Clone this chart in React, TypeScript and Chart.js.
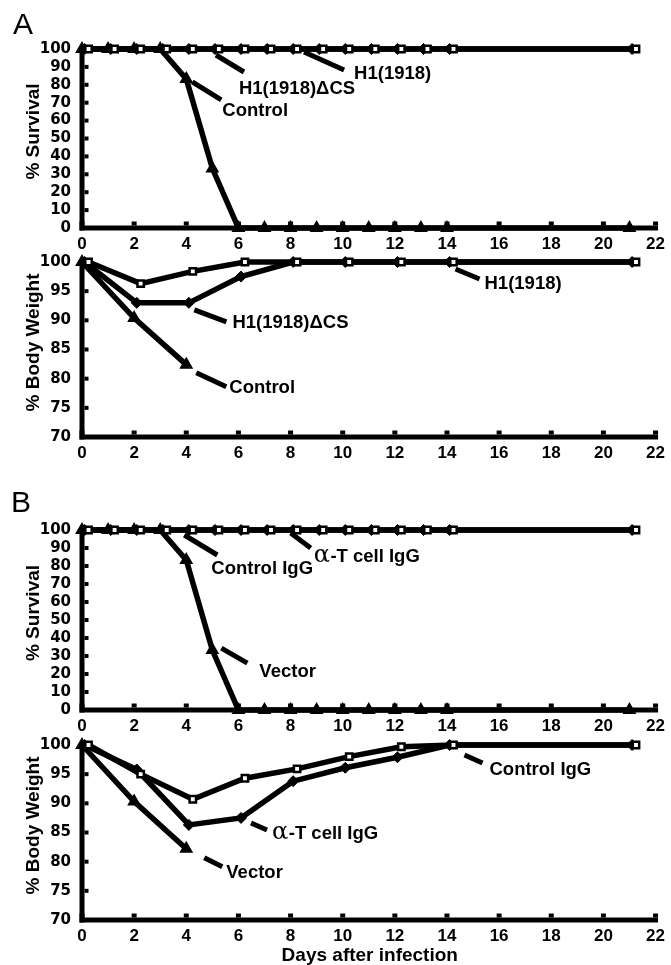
import { useEffect, useRef } from "react";
import { Chart, registerables } from "chart.js";

Chart.register(...registerables);

// ---------------- data ----------------
const survivalDays = [0, 1, 2, 3, 4, 5, 6, 7, 8, 9, 10, 11, 12, 13, 14, 21];
const weightDays = [0, 2, 4, 6, 8, 10, 12, 14, 21];
const weightDaysShort = [0, 2, 4];

// Panel A – % survival
const aSurvH1 = [100, 100, 100, 100, 100, 100, 100, 100, 100, 100, 100, 100, 100, 100, 100, 100];
const aSurvDeltaCS = [100, 100, 100, 100, 100, 100, 100, 100, 100, 100, 100, 100, 100, 100, 100, 100];
const aSurvControl = [100, 100, 100, 100, 83.3, 33.3, 0, 0, 0, 0, 0, 0, 0, 0, 0, 0];
// Panel A – % body weight
const aWtH1 = [100, 96.3, 98.4, 100, 100, 100, 100, 100, 100];
const aWtDeltaCS = [100, 93.0, 93.0, 97.5, 100, 100, 100, 100, 100];
const aWtControl = [100, 90.4, 82.4];
// Panel B – % survival
const bSurvControlIgG = [100, 100, 100, 100, 100, 100, 100, 100, 100, 100, 100, 100, 100, 100, 100, 100];
const bSurvAlphaT = [100, 100, 100, 100, 100, 100, 100, 100, 100, 100, 100, 100, 100, 100, 100, 100];
const bSurvVector = [100, 100, 100, 100, 83.3, 33.3, 0, 0, 0, 0, 0, 0, 0, 0, 0, 0];
// Panel B – % body weight
const bWtControlIgG = [100, 95.0, 90.7, 94.3, 95.9, 98.0, 99.7, 100, 100];
const bWtAlphaT = [100, 95.8, 86.3, 87.5, 93.8, 96.1, 97.9, 100, 100];
const bWtVector = [100, 90.3, 82.2];

// axis ranges / ticks
const xRange = { min: 0, max: 22, step: 2 };
const survivalRange = { min: 0, max: 100, step: 10 };
const weightRange = { min: 70, max: 100, step: 5 };

const xTitle = "Days after infection";

// ---------------- styles ----------------
const W = 671;
const H = 965;
const LEFT = 82;
const RIGHT = 659;
const XH = 30;
const SANS = '"Liberation Sans", Arial, sans-serif';

type MarkerKind = "square" | "diamond" | "triangle";
const MARKERS: Record<MarkerKind, any> = {
  square: { pointStyle: "rect", pointRadius: 4.5, pointBackgroundColor: "#fff", pointBorderWidth: 2.5, shift: 0.25 },
  diamond: { pointStyle: "rectRot", pointRadius: 5.5, pointBackgroundColor: "#000", pointBorderWidth: 1, shift: 0.1 },
  triangle: { pointStyle: "triangle", pointRadius: 6.5, pointBackgroundColor: "#000", pointBorderWidth: 1.5, shift: 0 },
};

type Series = { label: string; days: number[]; values: number[]; marker: MarkerKind };
type Note = { text: string; series: number; point: number; from: [number, number]; to: [number, number]; at: [number, number] };
type Panel = {
  top: number;
  bottom: number;
  range: { min: number; max: number; step: number };
  yTitle: string;
  letter?: { text: string; x: number; y: number };
  showXTitle?: boolean;
  series: Series[];
  notes: Note[];
};

const PANELS: Panel[] = [
  {
    top: 49,
    bottom: 228,
    range: survivalRange,
    yTitle: "% Survival",
    letter: { text: "A", x: 13, y: 34 },
    series: [
      { label: "H1(1918)", days: survivalDays, values: aSurvH1, marker: "square" },
      { label: "H1(1918)ΔCS", days: survivalDays, values: aSurvDeltaCS, marker: "diamond" },
      { label: "Control", days: survivalDays, values: aSurvControl, marker: "triangle" },
    ],
    notes: [
      { text: "H1(1918)ΔCS", series: 1, point: 5, from: [1, 6], to: [29, 23], at: [24, 38] },
      { text: "H1(1918)", series: 0, point: 8, from: [7, 3], to: [47, 21], at: [57, 23] },
      { text: "Control", series: 2, point: 4, from: [6, 3], to: [35, 21], at: [36, 31] },
    ],
  },
  {
    top: 262,
    bottom: 437,
    range: weightRange,
    yTitle: "% Body Weight",
    series: [
      { label: "H1(1918)", days: weightDays, values: aWtH1, marker: "square" },
      { label: "H1(1918)ΔCS", days: weightDays, values: aWtDeltaCS, marker: "diamond" },
      { label: "Control", days: weightDaysShort, values: aWtControl, marker: "triangle" },
    ],
    notes: [
      { text: "H1(1918)", series: 0, point: 7, from: [2, 7], to: [26, 17], at: [31, 20] },
      { text: "H1(1918)ΔCS", series: 1, point: 2, from: [5.5, 7], to: [37.5, 19], at: [43.5, 19] },
      { text: "Control", series: 2, point: 2, from: [10, 8], to: [40, 22], at: [43, 22] },
    ],
  },
  {
    top: 530,
    bottom: 710,
    range: survivalRange,
    yTitle: "% Survival",
    letter: { text: "B", x: 11, y: 512 },
    series: [
      { label: "Control IgG", days: survivalDays, values: bSurvControlIgG, marker: "square" },
      { label: "α-T cell IgG", days: survivalDays, values: bSurvAlphaT, marker: "diamond" },
      { label: "Vector", days: survivalDays, values: bSurvVector, marker: "triangle" },
    ],
    notes: [
      { text: "Control IgG", series: 0, point: 4, from: [-8.5, 5], to: [24.5, 25], at: [18.5, 37] },
      { text: "α-T cell IgG", series: 1, point: 8, from: [-2.5, 3], to: [17.5, 18], at: [20.5, 25] },
      { text: "Vector", series: 2, point: 5, from: [9, -2], to: [35, 13], at: [47, 20] },
    ],
  },
  {
    top: 745,
    bottom: 920,
    range: weightRange,
    yTitle: "% Body Weight",
    showXTitle: true,
    series: [
      { label: "Control IgG", days: weightDays, values: bWtControlIgG, marker: "square" },
      { label: "α-T cell IgG", days: weightDays, values: bWtAlphaT, marker: "diamond" },
      { label: "Vector", days: weightDaysShort, values: bWtVector, marker: "triangle" },
    ],
    notes: [
      { text: "Control IgG", series: 0, point: 7, from: [11, 10], to: [29, 18], at: [36, 23] },
      { text: "α-T cell IgG", series: 1, point: 3, from: [10, 5], to: [26, 12], at: [31, 15] },
      { text: "Vector", series: 2, point: 2, from: [18, 9], to: [36, 18], at: [40, 23] },
    ],
  },
];

// draws note text; a leading Greek letter is set in a lighter serif face, as in the figure
function drawNoteText(ctx: CanvasRenderingContext2D, text: string, x: number, y: number) {
  ctx.textAlign = "left";
  ctx.textBaseline = "alphabetic";
  const base = y + 6.5;
  let cx = x;
  let rest = text;
  if (text.startsWith("α")) {
    ctx.font = `normal 24px "DejaVu Serif", serif`;
    ctx.fillText("α", cx, base);
    cx += ctx.measureText("α").width + 0.5;
    rest = text.slice(1);
  }
  ctx.font = `bold 18.5px ${SANS}`;
  ctx.fillText(rest, cx, base);
}

// ---------------- decoration plugin ----------------
const decor = {
  id: "decor",
  beforeDatasetsDraw(chart: any) {
    const { ctx, chartArea, scales } = chart;
    const { left, right, top, bottom } = chartArea;
    ctx.save();
    ctx.fillStyle = "#000";
    ctx.fillRect(left - 2.5, top - 2, 5, bottom - top + 4.5);
    ctx.fillRect(left - 2.5, bottom - 2.5, right - left + 5, 5);
    scales.y.ticks.forEach((t: any) => {
      const py = scales.y.getPixelForValue(t.value);
      ctx.fillRect(left + 2.5, py - 2, 4, 4);
    });
    scales.x.ticks.forEach((t: any) => {
      const px = scales.x.getPixelForValue(t.value);
      ctx.fillRect(px - 2.5, bottom - 6.5, 5, 4);
    });
    ctx.restore();
  },
  afterDatasetsDraw(chart: any, _args: any, opts: any) {
    const panel: Panel = opts.panel;
    const { ctx, chartArea } = chart;
    const { top, bottom } = chartArea;
    ctx.save();
    ctx.fillStyle = "#000";
    ctx.strokeStyle = "#000";

    // notes with leader lines
    panel.notes.forEach((n) => {
      const el = chart.getDatasetMeta(n.series).data[n.point];
      if (!el) return;
      const ax = el.x;
      const ay = el.y;
      ctx.lineWidth = 5;
      ctx.lineCap = "butt";
      ctx.beginPath();
      ctx.moveTo(ax + n.from[0], ay + n.from[1]);
      ctx.lineTo(ax + n.to[0], ay + n.to[1]);
      ctx.stroke();
      drawNoteText(ctx, n.text, ax + n.at[0], ay + n.at[1]);
    });

    // y-axis title
    ctx.font = `bold 19px ${SANS}`;
    ctx.textAlign = "center";
    ctx.textBaseline = "alphabetic";
    ctx.save();
    ctx.translate(39, (top + bottom) / 2 - 7);
    ctx.rotate(-Math.PI / 2);
    ctx.fillText(panel.yTitle, 0, 0);
    ctx.restore();

    // x-axis title
    if (panel.showXTitle) {
      ctx.font = `bold 19px ${SANS}`;
      ctx.textAlign = "center";
      ctx.textBaseline = "alphabetic";
      ctx.fillText(xTitle, (chartArea.left + chartArea.right) / 2 + 1, 961);
    }

    // panel letter
    if (panel.letter) {
      ctx.font = `normal 30px ${SANS}`;
      ctx.textAlign = "left";
      ctx.textBaseline = "alphabetic";
      ctx.fillText(panel.letter.text, panel.letter.x, panel.letter.y);
    }
    ctx.restore();
  },
};

function buildConfig(panel: Panel): any {
  const datasets = panel.series.map((s) => {
    const m = MARKERS[s.marker];
    return {
      label: s.label,
      data: s.days.map((d, i) => ({ x: d + m.shift, y: s.values[i] })),
      borderColor: "#000",
      borderWidth: 5.5,
      pointStyle: m.pointStyle,
      pointRadius: m.pointRadius,
      pointBackgroundColor: m.pointBackgroundColor,
      pointBorderColor: "#000",
      pointBorderWidth: m.pointBorderWidth,
      tension: 0,
      fill: false,
      clip: false,
    };
  });
  return {
    type: "line",
    data: { datasets },
    plugins: [decor],
    options: {
      animation: false,
      responsive: false,
      devicePixelRatio: 1,
      events: [],
      layout: { padding: { left: 0, right: W - RIGHT, top: panel.top, bottom: H - panel.bottom - XH } },
      plugins: {
        legend: { display: false },
        tooltip: { enabled: false },
        decor: { panel },
      },
      scales: {
        x: {
          type: "linear",
          min: xRange.min,
          max: xRange.max,
          grid: { display: false, drawTicks: false },
          border: { display: false },
          ticks: {
            stepSize: xRange.step,
            padding: 6,
            autoSkip: false,
            maxRotation: 0,
            color: "#000",
            font: { family: SANS, size: 17, weight: "bold" },
          },
          afterFit: (s: any) => {
            s.height = XH;
          },
        },
        y: {
          type: "linear",
          min: panel.range.min,
          max: panel.range.max,
          grid: { display: false, drawTicks: false },
          border: { display: false },
          ticks: {
            stepSize: panel.range.step,
            padding: 11,
            autoSkip: false,
            color: "#000",
            font: { family: '"DejaVu Sans", sans-serif', size: 15, weight: "bold", lineHeight: 1 },
          },
          afterFit: (s: any) => {
            s.width = LEFT;
          },
        },
      },
    },
  };
}

export default function App() {
  const canvases = useRef<(HTMLCanvasElement | null)[]>([]);
  useEffect(() => {
    const charts = PANELS.map((p, i) => new Chart(canvases.current[i] as HTMLCanvasElement, buildConfig(p)));
    return () => charts.forEach((c) => c.destroy());
  }, []);
  return (
    <div style={{ position: "absolute", left: 0, top: 0, width: W, height: H, background: "#fff", overflow: "hidden" }}>
      {PANELS.map((_, i) => (
        <canvas
          key={i}
          ref={(el) => {
            canvases.current[i] = el;
          }}
          width={W}
          height={H}
          style={{ position: "absolute", left: 0, top: 0, width: W, height: H }}
        />
      ))}
    </div>
  );
}
